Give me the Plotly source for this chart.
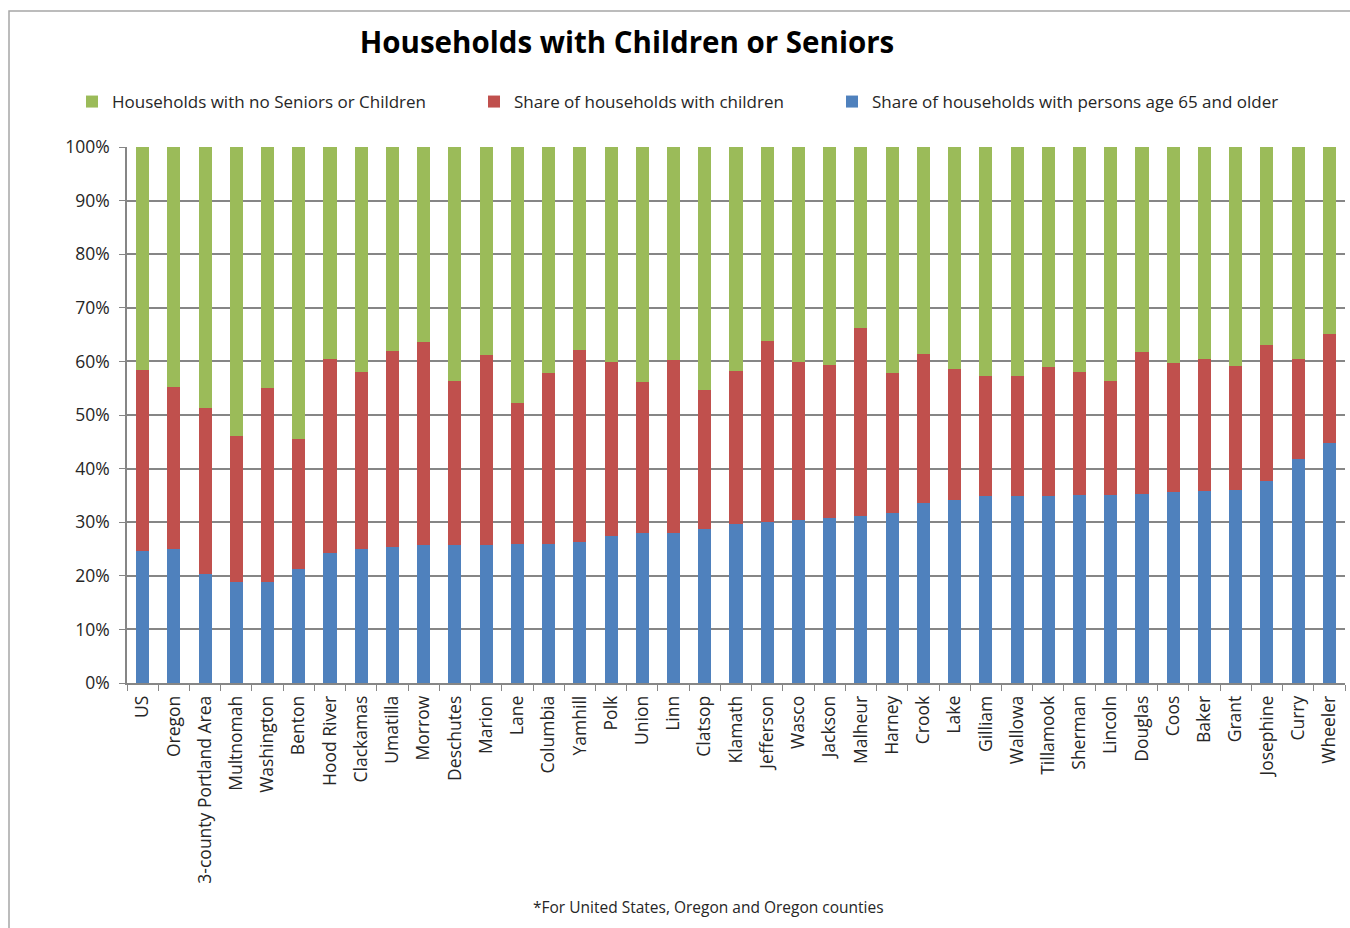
import plotly.graph_objects as go

categories = ["US", "Oregon", "3-county Portland Area", "Multnomah", "Washington", "Benton",
              "Hood River", "Clackamas", "Umatilla", "Morrow", "Deschutes", "Marion", "Lane",
              "Columbia", "Yamhill", "Polk", "Union", "Linn", "Clatsop", "Klamath", "Jefferson",
              "Wasco", "Jackson", "Malheur", "Harney", "Crook", "Lake", "Gilliam", "Wallowa",
              "Tillamook", "Sherman", "Lincoln", "Douglas", "Coos", "Baker", "Grant",
              "Josephine", "Curry", "Wheeler"]

seniors = [24.7, 25.0, 20.4, 18.9, 18.9, 21.2, 24.2, 25.0, 25.4, 25.7, 25.7, 25.7, 25.9,
           25.9, 26.4, 27.5, 27.9, 28.0, 28.8, 29.7, 30.0, 30.5, 30.8, 31.2, 31.7, 33.6,
           34.2, 34.8, 34.8, 34.8, 35.0, 35.0, 35.3, 35.6, 35.8, 36.1, 37.6, 41.7, 44.7]

children = [33.7, 30.3, 31.0, 27.2, 36.2, 24.3, 36.2, 33.1, 36.6, 37.9, 30.7, 35.5, 26.3,
            32.0, 35.8, 32.4, 28.2, 32.2, 25.9, 28.6, 33.9, 29.4, 28.6, 35.0, 26.2, 27.8,
            24.4, 22.4, 22.4, 24.1, 23.0, 21.3, 26.4, 24.1, 24.7, 23.0, 25.5, 18.8, 20.5]

neither = [41.6, 44.7, 48.6, 53.9, 44.9, 54.5, 39.6, 41.9, 38.0, 36.4, 43.6, 38.8, 47.8,
           42.1, 37.8, 40.1, 43.9, 39.8, 45.3, 41.7, 36.1, 40.1, 40.6, 33.8, 42.1, 38.6,
           41.4, 42.8, 42.8, 41.1, 42.0, 43.7, 38.3, 40.3, 39.5, 40.9, 36.9, 39.5, 34.8]

y_ticks = [0, 10, 20, 30, 40, 50, 60, 70, 80, 90, 100]
y_tick_labels = [f"{v}%" for v in y_ticks]

FONT = "Open Sans"
W, H = 1350, 928
L = 127
R = W - 1345
T = 147
B = H - 683
pw = W - L - R
ph = H - T - B


def px_x(page_px):
    return (page_px - L) / pw


def px_y(page_py):
    return (H - B - page_py) / ph


fig = go.Figure()
fig.add_trace(go.Bar(x=categories, y=seniors, name="Share of households with persons age 65 and older",
                     marker=dict(color="#4F81BD", line=dict(width=0)), legend="legend4"))
fig.add_trace(go.Bar(x=categories, y=children, name="Share of households with children",
                     marker=dict(color="#C0504D", line=dict(width=0)), legend="legend3"))
fig.add_trace(go.Bar(x=categories, y=neither, name="Households with no Seniors or Children",
                     marker=dict(color="#9BBB59", line=dict(width=0)), legend="legend2"))

leg_common = dict(orientation="h", xanchor="left", yanchor="middle", bgcolor="rgba(0,0,0,0)",
                  font=dict(family=FONT, size=17, color="#262626"), itemwidth=30)

fig.update_layout(
    width=W, height=H,
    barmode="stack", bargap=0.58,
    showlegend=True,
    plot_bgcolor="white", paper_bgcolor="white",
    margin=dict(l=L, r=R, t=T, b=B, autoexpand=False),
    title=dict(text="<b>Households with Children or Seniors</b>", x=px_x(627), xref="paper",
               xanchor="center", y=1 - 43 / H, yref="container", yanchor="middle",
               font=dict(family=FONT, size=29.5, color="black")),
    legend2=dict(x=px_x(112 - 40), y=px_y(102), **leg_common),
    legend3=dict(x=px_x(514 - 40), y=px_y(102), **leg_common),
    legend4=dict(x=px_x(872 - 40), y=px_y(102), **leg_common),
    xaxis=dict(type="category", tickangle=-90, tickson="boundaries", ticks="outside",
               ticklen=6, tickcolor="#868686", showline=True, linecolor="#868686", linewidth=1.5,
               ticklabelstandoff=4,
               tickfont=dict(family=FONT, size=17.5, color="#262626"), showgrid=False),
    yaxis=dict(range=[0, 100], tickvals=y_ticks, ticktext=y_tick_labels, ticks="outside",
               ticklen=6, tickcolor="#868686", showline=True, linecolor="#868686", linewidth=1.5,
               showgrid=True, gridcolor="#868686", gridwidth=1.5, zeroline=False,
               ticklabelstandoff=6,
               tickfont=dict(family=FONT, size=17.5, color="#262626")),
    annotations=[dict(text="*For United States, Oregon and Oregon counties", x=px_x(708),
                      y=px_y(907), xref="paper", yref="paper", xanchor="center", yanchor="middle",
                      showarrow=False, font=dict(family=FONT, size=15.5, color="#262626"))],
    shapes=[dict(type="rect", xref="paper", yref="paper", x0=px_x(9), y0=px_y(1000),
                 x1=px_x(1400), y1=px_y(11), line=dict(color="#A6A6A6", width=1.5), layer="below")],
)

fig.write_html("out.html", config={"displayModeBar": False},
               post_script="document.body.style.margin='0';document.body.style.overflow='hidden';")
